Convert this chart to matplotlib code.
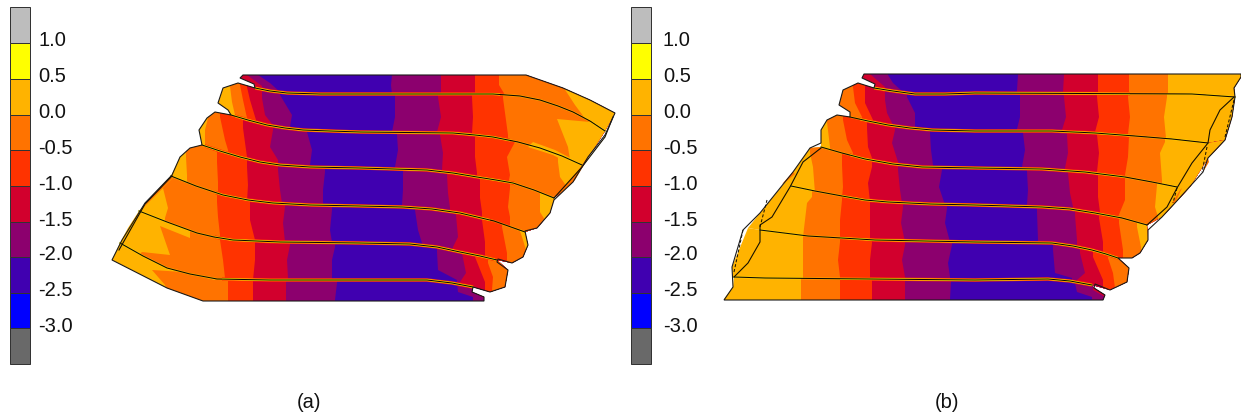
#!/usr/bin/python3
# two contour maps of a deformed layered section, with their colour scales
import matplotlib
matplotlib.use("Agg")
import matplotlib.pyplot as plt
from matplotlib.patches import Polygon, Rectangle

plt.rcParams['font.family'] = ['Liberation Sans', 'DejaVu Sans']

# scale, top to bottom
levels = [1.0, 0.5, 0.0, -0.5, -1.0, -1.5, -2.0, -2.5, -3.0]
scale_colors = ['#bdbdbd', '#ffff00', '#ffb300', '#ff7300', '#ff3300', '#d2002d',
                '#8c006e', '#4000b0', '#0000ff', '#696969']
GREY, YEL, AMB, ORG, RED, CRI, PUR, VIO, BLU, DRK = scale_colors

# ---- panel a, figure pixels ----
a_ifaces = [
    [(243, 75), (526, 75)],
    [(255, 88), (270, 91), (287, 93), (320, 94), (360, 94), (493, 94), (520, 96), (540, 100), (558, 106), (573, 112), (590, 121), (605, 131)],
    [(231, 115), (248, 120), (267, 125), (285, 128), (303, 130), (330, 131), (360, 132), (453, 133), (475, 135), (493, 137), (518, 142), (540, 148), (562, 156), (582, 165)],
    [(202, 145), (220, 151), (240, 157), (260, 162), (280, 165), (310, 167), (360, 168), (427, 170), (453, 173), (477, 177), (496, 180), (513, 183), (534, 190), (554, 198)],
    [(171, 176), (196, 186), (223, 195), (248, 200), (273, 203), (310, 205), (360, 206), (403, 207), (432, 209), (460, 213), (494, 221), (525, 232)],
    [(139, 211), (167, 222), (197, 233), (214, 237), (233, 240), (280, 242), (360, 243), (410, 244), (437, 247), (460, 252), (480, 256), (497, 260)],
    [(120, 243), (143, 256), (167, 268), (190, 274), (217, 279), (270, 280), (360, 280), (427, 280), (452, 283), (473, 287)],
    [(203, 301), (484, 301)],
]
a_left = [
    [(240, 78), (254, 84)],
    [(238, 83), (223, 88), (218, 103), (228, 110)],
    [(215, 112), (207, 118), (199, 130)],
    [(190, 148), (180, 157)],
    [(158, 190)],
    [(128, 228)],
    [(112, 260), (167, 288)],
]
a_right = [
    [(563, 88), (590, 100), (615, 113)],
    [(593, 150)],
    [(573, 182)],
    [(550, 213), (537, 228)],
    [(528, 245), (523, 257), (512, 263)],
    [(508, 270), (505, 287), (490, 292)],
    [(472, 292), (484, 297)],
]
a_outline = [(243, 75), (526, 75), (563, 88), (590, 100), (615, 113), (605, 135), (588, 157), (573, 182), (554, 200),
             (550, 213), (537, 228), (525, 231), (528, 245), (523, 257), (512, 263), (498, 259), (497, 262),
             (508, 270), (505, 287), (490, 292), (473, 287), (472, 292), (484, 297), (484, 301), (203, 301),
             (167, 288), (112, 260), (122, 240), (145, 203), (172, 175), (180, 157), (190, 148), (202, 145),
             (199, 130), (207, 118), (215, 112), (231, 115), (228, 110), (218, 103), (223, 88), (238, 83),
             (255, 88), (254, 84), (240, 78)]
a_start = [CRI, AMB, AMB, AMB, AMB, AMB, AMB]
a_zones = [
    [(PUR, [(247, 75), (262, 86)]), (VIO, [(258, 75), (270, 83), (280, 92)]),
     (PUR, [(392, 75), (391, 85), (392, 95)]), (CRI, [(441, 75), (441, 95)]), (RED, [(475, 75), (475, 95)]),
     (ORG, [(499, 75), (499, 85), (505, 95)]), (AMB, [(562, 85), (575, 105), (590, 125)])],
    [(ORG, [(230, 86), (232, 102), (235, 115)]), (RED, [(240, 85), (243, 100), (247, 118)]),
     (CRI, [(247, 87), (250, 100), (256, 120)]), (PUR, [(262, 98), (265, 115), (272, 124)]),
     (VIO, [(280, 95), (292, 115), (290, 127)]), (PUR, [(395, 97), (395, 117), (392, 132)]),
     (CRI, [(438, 97), (441, 117), (437, 132)]), (RED, [(472, 97), (473, 117), (472, 133)]),
     (ORG, [(503, 98), (508, 135)]), (AMB, [(590, 122), (557, 119), (568, 147), (570, 160)])],
    [(ORG, [(208, 118), (205, 130), (205, 145)]), (RED, [(220, 117), (225, 140), (228, 150)]),
     (CRI, [(243, 128), (247, 157)]), (PUR, [(273, 130), (270, 147), (278, 160)]),
     (VIO, [(307, 132), (312, 150), (310, 165)]), (PUR, [(397, 135), (398, 150), (395, 167)]),
     (CRI, [(440, 135), (443, 153), (442, 170)]), (RED, [(475, 135), (475, 157), (477, 173)]),
     (ORG, [(515, 142), (507, 157), (510, 175), (509, 180)]), (AMB, [(558, 162), (560, 177), (567, 187)])],
    [(ORG, [(186, 157), (187, 175), (187, 180)]), (RED, [(217, 162), (218, 182), (218, 197)]),
     (CRI, [(247, 167), (248, 185), (247, 202)]), (PUR, [(278, 170), (280, 190), (282, 203)]),
     (VIO, [(325, 172), (323, 190), (323, 205)]), (PUR, [(403, 173), (403, 190), (402, 205)]),
     (CRI, [(447, 175), (448, 193), (450, 208)]), (RED, [(480, 180), (480, 198), (482, 212)]),
     (ORG, [(510, 188), (508, 207), (510, 217)]), (AMB, [(540, 197), (540, 212), (545, 220)])],
    [(ORG, [(173, 178), (163, 188), (168, 208), (165, 218)]), (RED, [(217, 202), (218, 217), (220, 235)]),
     (CRI, [(250, 207), (250, 220), (255, 240)]), (PUR, [(285, 207), (283, 223), (285, 242)]),
     (VIO, [(332, 210), (330, 230), (332, 242)]), (PUR, [(415, 210), (418, 230), (422, 243)]),
     (CRI, [(456, 215), (458, 237), (453, 247)]), (RED, [(482, 220), (485, 242), (485, 252)]),
     (ORG, [(502, 227), (507, 253), (507, 257)]), (AMB, [(519, 228), (523, 240), (526, 250)])],
    [(ORG, [(190, 238), (160, 226), (170, 255), (142, 252), (135, 258)]), (RED, [(220, 240), (223, 260), (225, 278)]),
     (CRI, [(255, 243), (255, 260), (253, 280)]), (PUR, [(290, 245), (287, 260), (288, 278)]),
     (VIO, [(335, 247), (332, 260), (332, 277)]), (PUR, [(437, 252), (438, 270), (457, 280)]),
     (CRI, [(462, 253), (466, 273), (460, 282)]), (RED, [(475, 257), (485, 282)]),
     (ORG, [(488, 263), (493, 277), (492, 290)])],
    [(ORG, [(215, 280), (183, 272), (152, 270), (165, 285), (170, 295)]), (RED, [(228, 282), (228, 300)]),
     (CRI, [(253, 282), (253, 300)]), (PUR, [(286, 282), (286, 300)]), (VIO, [(337, 283), (335, 300)]),
     (PUR, [(457, 282), (458, 292), (473, 297)]), (CRI, [(473, 292), (484, 298)])],
]
a_patches = [(AMB, [(533, 142), (555, 150), (580, 163), (572, 165), (553, 155), (528, 147)]),
             (ORG, [(172, 175), (150, 198), (140, 212), (145, 206), (174, 177)]),
             (ORG, [(590, 155), (575, 180), (556, 198), (580, 168)])]
a_halo = [(255, 500), (235, 510), (205, 515), (215, 490), (215, 495), (222, 480)]
a_solid = [[(119, 250), (145, 204), (172, 176)], [(613, 117), (605, 137), (582, 167), (554, 198)]]
a_dash = []

# ---- panel b ----
b_ifaces = [
    [(864, 74), (1241, 74)],
    [(874, 88), (893, 91), (915, 94), (945, 94), (975, 93), (1192, 94), (1235, 97)],
    [(850, 117), (868, 121), (888, 125), (910, 128), (932, 130), (975, 131), (1052, 131), (1095, 133), (1135, 136), (1172, 139), (1208, 143)],
    [(821, 147), (842, 153), (865, 159), (893, 164), (922, 167), (975, 168), (1042, 169), (1085, 172), (1125, 177), (1152, 182), (1177, 187)],
    [(791, 186), (815, 191), (842, 196), (865, 200), (888, 202), (930, 204), (975, 205), (1042, 207), (1070, 209), (1095, 213), (1122, 218), (1147, 225)],
    [(760, 230), (808, 236), (875, 240), (975, 242), (1052, 243), (1073, 246), (1092, 250), (1106, 254), (1118, 258)],
    [(734, 277), (765, 278), (975, 280), (1048, 279), (1070, 281), (1092, 285)],
    [(724, 300), (1103, 300)],
]
b_left = [
    [(862, 78), (875, 84)],
    [(858, 83), (843, 90), (839, 105), (850, 112)],
    [(837, 115), (827, 120), (821, 130)],
    [(810, 148), (793, 172), (782, 186)],
    [(782, 186), (760, 213), (748, 228)],
    [(748, 228), (732, 267), (733, 277)],
    [(733, 287), (724, 299)],
]
b_right = [
    [(1241, 77), (1234, 88)],
    [(1232, 117), (1225, 140)],
    [(1225, 140), (1208, 158), (1190, 187)],
    [(1190, 187), (1175, 203), (1162, 217)],
    [(1148, 240), (1140, 253), (1132, 258)],
    [(1129, 268), (1127, 282), (1110, 290)],
    [(1094, 288), (1105, 295)],
]
b_outline = [(864, 74), (1241, 74), (1241, 77), (1234, 88), (1235, 97), (1232, 117), (1225, 140), (1208, 158),
             (1203, 172), (1175, 203), (1162, 217), (1148, 230), (1148, 240), (1140, 253), (1132, 258), (1118, 258),
             (1129, 268), (1127, 282), (1110, 290), (1095, 284), (1094, 288), (1105, 295), (1103, 300), (724, 300),
             (733, 287), (732, 267), (743, 230), (760, 213), (793, 172), (810, 148), (821, 143), (821, 130),
             (827, 120), (837, 115), (850, 117), (850, 112), (839, 105), (843, 90), (858, 83), (874, 88),
             (875, 84), (862, 78)]
b_start = [CRI, ORG, AMB, AMB, AMB, AMB, AMB]
b_zones = [
    [(PUR, [(870, 74), (885, 87)]), (VIO, [(888, 75), (893, 83), (903, 92)]), (PUR, [(1018, 75), (1017, 90)]),
     (CRI, [(1064, 75), (1063, 92)]), (RED, [(1098, 75), (1098, 92)]), (ORG, [(1129, 75), (1129, 92)]),
     (AMB, [(1168, 75), (1168, 92)])],
    [(RED, [(853, 87), (855, 103), (862, 117)]), (CRI, [(865, 90), (865, 103), (873, 120)]),
     (PUR, [(885, 100), (887, 113), (892, 123)]), (VIO, [(907, 97), (915, 113), (915, 128)]),
     (PUR, [(1020, 97), (1020, 117), (1017, 129)]), (CRI, [(1064, 97), (1066, 117), (1062, 130)]),
     (RED, [(1097, 97), (1099, 117), (1095, 132)]), (ORG, [(1128, 97), (1130, 117), (1128, 134)]),
     (AMB, [(1167, 97), (1164, 117), (1166, 138)])],
    [(ORG, [(827, 122), (830, 147)]), (RED, [(843, 120), (847, 140), (853, 153)]),
     (CRI, [(867, 128), (868, 147), (872, 158)]), (PUR, [(895, 130), (892, 143), (898, 162)]),
     (VIO, [(930, 133), (931, 150), (933, 165)]), (PUR, [(1023, 133), (1025, 150), (1022, 167)]),
     (CRI, [(1067, 135), (1068, 153), (1065, 168)]), (RED, [(1097, 135), (1099, 153), (1097, 172)]),
     (ORG, [(1129, 137), (1128, 157), (1125, 175)]), (AMB, [(1165, 142), (1160, 153), (1162, 180)])],
    [(ORG, [(810, 153), (813, 167), (815, 193)]), (RED, [(842, 165), (843, 187), (842, 198)]),
     (CRI, [(872, 167), (868, 183), (870, 202)]), (PUR, [(898, 170), (900, 190), (902, 203)]),
     (VIO, [(942, 170), (939, 187), (945, 205)]), (PUR, [(1027, 172), (1028, 190), (1027, 205)]),
     (CRI, [(1068, 173), (1070, 193), (1073, 207)]), (RED, [(1098, 177), (1098, 197), (1100, 212)]),
     (ORG, [(1125, 180), (1125, 200), (1118, 217)]), (AMB, [(1157, 185), (1155, 207), (1158, 217)])],
    [(ORG, [(812, 197), (807, 203), (803, 237)]), (RED, [(842, 200), (840, 220), (840, 238)]),
     (CRI, [(870, 203), (870, 223), (870, 240)]), (PUR, [(903, 207), (901, 223), (905, 242)]),
     (VIO, [(947, 208), (945, 223), (950, 242)]), (PUR, [(1037, 212), (1038, 240)]),
     (CRI, [(1075, 215), (1077, 240)]), (RED, [(1099, 218), (1103, 242)]),
     (ORG, [(1119, 223), (1123, 250)]), (AMB, [(1137, 227), (1141, 247)])],
    [(ORG, [(803, 238), (803, 277)]), (RED, [(840, 242), (838, 260), (840, 277)]),
     (CRI, [(872, 243), (870, 260), (870, 277)]), (PUR, [(905, 245), (902, 260), (905, 277)]),
     (VIO, [(952, 245), (948, 263), (950, 277)]), (PUR, [(1053, 250), (1055, 273), (1072, 278)]),
     (CRI, [(1080, 253), (1085, 273), (1077, 280)]), (RED, [(1093, 257), (1103, 280)]),
     (ORG, [(1108, 258), (1113, 273), (1115, 288)])],
    [(ORG, [(801, 282), (801, 299)]), (RED, [(840, 282), (840, 299)]), (CRI, [(872, 282), (872, 299)]),
     (PUR, [(905, 282), (905, 299)]), (VIO, [(951, 282), (950, 299)]),
     (PUR, [(1075, 283), (1077, 292), (1092, 297)]), (CRI, [(1093, 290), (1105, 297)])],
]
b_patches = [(ORG, [(793, 172), (782, 184), (788, 180), (795, 174)]),
             (ORG, [(1208, 158), (1203, 172), (1209, 162)]),
             (ORG, [(1182, 188), (1175, 203), (1172, 203), (1180, 190)])]
b_halo = [(874, 1130), (860, 1130), (850, 1125), (842, 1120), (840, 1120), (840, 1110)]
b_solid = [[(734, 277), (748, 263), (760, 242), (760, 225), (772, 217), (790, 187), (803, 162), (821, 148)],
           [(1234, 97), (1220, 110), (1210, 130), (1208, 143), (1192, 163), (1177, 188), (1167, 207), (1147, 225)]]
b_dash = [[(734, 272), (743, 230)], [(760, 227), (767, 200)],
          [(1234, 100), (1225, 137)], [(1207, 147), (1202, 172)], [(1177, 188), (1173, 203)]]


def px(v):
    return v * 0.72


def draw_panel(ax, ifaces, left, right, outline, start, zones, patches, halo, solid, dash):
    for k in range(len(start)):
        top = ifaces[k]
        bot = ifaces[k + 1]
        band = Polygon(top + right[k] + bot[::-1] + left[k][::-1], closed=True, fc=start[k], ec='none', zorder=2)
        ax.add_patch(band)
        for color, edge in zones[k]:
            # everything right of this contour gets the next colour
            y0, y1 = edge[0][1], edge[-1][1]
            poly = [(edge[0][0], y0 - 45)] + edge + [(edge[-1][0], y1 + 45), (1300, y1 + 45), (1300, y0 - 45)]
            p = Polygon(poly, closed=True, fc=color, ec='none', zorder=2)
            ax.add_patch(p)
            p.set_clip_path(band)
    for color, pts in patches:
        ax.add_patch(Polygon(pts, closed=True, fc=color, ec='none', zorder=3))
    for line, (x0, x1) in zip(ifaces[1:-1], halo):
        xs = [p[0] for p in line]
        ys = [p[1] for p in line]
        clip = Rectangle((x0, 0), x1 - x0, 418, transform=ax.transData)
        for c, w in [(RED, 3.4), (ORG, 2.4), (YEL, 1.4)]:
            h, = ax.plot(xs, ys, color=c, lw=px(w), zorder=4, solid_capstyle='butt')
            h.set_clip_path(clip)
        ax.plot(xs, ys, color=YEL, lw=px(2.0), zorder=4, alpha=0.45)
        ax.plot(xs, ys, color='#0c0800', lw=px(1.05), zorder=5)
    for line in solid:
        ax.plot([p[0] for p in line], [p[1] for p in line], color='#151000', lw=px(1.1), zorder=5)
    for line in dash:
        ax.plot([p[0] for p in line], [p[1] for p in line], color='#151000', lw=px(1.0), ls=(0, (3, 2)), zorder=5)
    ax.add_patch(Polygon(outline, closed=True, fc='none', ec='#1a1a1a', lw=px(1.1), zorder=6))


def draw_scale(ax, x0, label_x):
    tops = [7, 43, 79, 115, 150, 186, 222, 257, 293, 328]
    hts = [36, 36, 36, 35, 36, 36, 35, 36, 35, 36]
    ax.bar([x0 + 10] * 10, hts, width=20, bottom=tops, color=scale_colors, edgecolor='#333333', linewidth=px(1.0), zorder=2)
    for lev, y in zip(levels, tops[1:]):
        ax.text(label_x, y - 2, '%.1f' % lev, fontsize=14.5, color='#111111', ha='left', va='center')


fig = plt.figure(figsize=(12.41, 4.18), dpi=100)
ax = fig.add_axes([0, 0, 1, 1])
ax.set_xlim(0, 1241)
ax.set_ylim(418, 0)
ax.axis('off')

draw_panel(ax, a_ifaces, a_left, a_right, a_outline, a_start, a_zones, a_patches, a_halo, a_solid, a_dash)
draw_panel(ax, b_ifaces, b_left, b_right, b_outline, b_start, b_zones, b_patches, b_halo, b_solid, b_dash)
draw_scale(ax, 10, 38)
draw_scale(ax, 631, 663)
ax.text(309, 402, '(a)', fontsize=14.5, ha='center', va='center', color='#111111')
ax.text(947, 402, '(b)', fontsize=14.5, ha='center', va='center', color='#111111')

fig.savefig('out.png', dpi=100)
